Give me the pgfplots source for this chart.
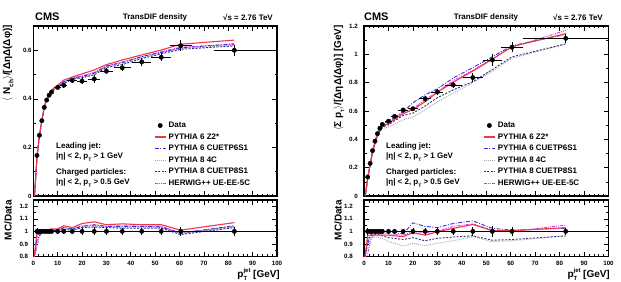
\documentclass[border=0pt]{standalone}
\usepackage{fontspec}
\setmainfont{Liberation Sans}
\usepackage{pgfplots}
\usepackage{pgfplotstable}
\pgfplotsset{compat=1.18}

\definecolor{cZtwo}{RGB}{235,60,70}
\definecolor{cSixS}{RGB}{50,50,230}
\definecolor{cFourC}{RGB}{170,170,170}
\definecolor{cEightS}{RGB}{45,45,120}
\definecolor{cHerwig}{RGB}{230,50,230}

\newcommand{\pT}{p\raisebox{-0.6ex}{\fontsize{5}{5}\selectfont T}}
\newcommand{\ptjet}{p\rlap{\raisebox{0.95ex}{\fontsize{6}{6}\selectfont jet}}\raisebox{-0.7ex}{\fontsize{6}{6}\selectfont T}\hspace{6bp}}

% Data: <N_ch> density, transverse-difference region
\pgfplotstableread{
x     y      exl   exh   ey
1.5   0.167  0.5   0.5   0.004
2.5   0.250  0.5   0.5   0.005
3.5   0.310  0.5   0.5   0.006
4.5   0.365  0.5   0.5   0.006
5.5   0.395  0.5   0.5   0.007
6.5   0.415  0.5   0.5   0.007
7.5   0.428  0.5   0.5   0.008
10    0.447  1.5   1.5   0.008
12.5  0.456  1.5   1.5   0.010
16    0.476  2     2     0.010
20    0.473  2     2     0.012
25    0.482  2.5   2.5   0.015
30    0.514  2.5   2.5   0.013
36.5  0.528  3.5   3.5   0.014
44.5  0.552  4     4     0.015
52.5  0.571  4     4     0.016
60.5  0.619  4.5   4.5   0.022
82.5  0.600  8.5   17.5  0.022
}\dataNch

\pgfplotstableread{
x     r  exl   exh   er
1.5   1  0.5   0.5   0.024
2.5   1  0.5   0.5   0.020
3.5   1  0.5   0.5   0.019
4.5   1  0.5   0.5   0.016
5.5   1  0.5   0.5   0.018
6.5   1  0.5   0.5   0.017
7.5   1  0.5   0.5   0.019
10    1  1.5   1.5   0.018
12.5  1  1.5   1.5   0.022
16    1  2     2     0.021
20    1  2     2     0.025
25    1  2.5   2.5   0.031
30    1  2.5   2.5   0.025
36.5  1  3.5   3.5   0.027
44.5  1  4     4     0.027
52.5  1  4     4     0.028
60.5  1  4.5   4.5   0.036
82.5  1  8.5   17.5  0.037
}\ratDataNch

\pgfplotstableread{
x     z2     p6     fc     p8     hw
0.5   0.000  0.000  0.000  0.000  0.000
1.5   0.165  0.155  0.162  0.160  0.147
2.5   0.250  0.243  0.248  0.248  0.240
3.5   0.313  0.307  0.310  0.310  0.307
4.5   0.369  0.365  0.365  0.365  0.365
5.5   0.399  0.399  0.395  0.395  0.399
6.5   0.421  0.419  0.417  0.417  0.419
7.5   0.437  0.432  0.430  0.430  0.432
10    0.456  0.451  0.451  0.449  0.454
12.5  0.477  0.470  0.465  0.463  0.470
16    0.490  0.486  0.481  0.481  0.486
20    0.503  0.492  0.487  0.487  0.494
25    0.519  0.506  0.501  0.499  0.509
30    0.541  0.535  0.532  0.529  0.535
36.5  0.560  0.549  0.544  0.541  0.552
44.5  0.581  0.574  0.569  0.566  0.574
52.5  0.601  0.591  0.588  0.585  0.594
60.5  0.625  0.610  0.607  0.604  0.613
82.5  0.642  0.627  0.621  0.618  0.624
}\mcNch

\pgfplotstableread{
x     z2     p6     fc     p8     hw
0.3   0.78   0.78   0.78   0.78   0.78
1.5   0.99   0.93   0.97   0.96   0.88
2.5   1.00   0.97   0.99   0.99   0.96
3.5   1.01   0.99   1.00   1.00   0.99
4.5   1.01   1.00   1.00   1.00   1.00
5.5   1.01   1.01   1.00   1.00   1.01
6.5   1.015  1.01   1.005  1.005  1.01
7.5   1.02   1.01   1.005  1.005  1.01
10    1.02   1.01   1.01   1.005  1.015
12.5  1.045  1.03   1.02   1.015  1.03
16    1.03   1.02   1.01   1.01   1.02
20    1.063  1.04   1.03   1.03   1.045
25    1.076  1.05   1.04   1.035  1.055
30    1.053  1.04   1.035  1.03   1.04
36.5  1.06   1.04   1.03   1.025  1.045
44.5  1.053  1.04   1.03   1.025  1.04
52.5  1.053  1.035  1.03   1.025  1.04
60.5  1.01   0.985  0.98   0.975  0.99
82.5  1.07   1.045  1.035  1.03   1.04
}\ratMcNch

% Data: sum pT density, transverse-difference region
\pgfplotstableread{
x     y      exl   exh   ey
1.5   0.134  0.5   0.5   0.004
2.5   0.230  0.5   0.5   0.005
3.5   0.320  0.5   0.5   0.006
4.5   0.387  0.5   0.5   0.007
5.5   0.440  0.5   0.5   0.008
6.5   0.478  0.5   0.5   0.008
7.5   0.505  0.5   0.5   0.009
10    0.528  1.5   1.5   0.010
12.5  0.562  1.5   1.5   0.012
16    0.607  2     2     0.012
20    0.616  2     2     0.015
25    0.687  2.5   2.5   0.020
30    0.734  2.5   2.5   0.020
36.5  0.784  3.5   3.5   0.022
44.5  0.836  4     4     0.030
52.5  0.960  4     4     0.040
60.5  1.050  4.5   4.5   0.035
82.5  1.113  17.5  17.5  0.030
}\dataPt

\pgfplotstableread{
x     r  exl   exh   er
1.5   1  0.5   0.5   0.030
2.5   1  0.5   0.5   0.022
3.5   1  0.5   0.5   0.019
4.5   1  0.5   0.5   0.018
5.5   1  0.5   0.5   0.018
6.5   1  0.5   0.5   0.017
7.5   1  0.5   0.5   0.018
10    1  1.5   1.5   0.019
12.5  1  1.5   1.5   0.021
16    1  2     2     0.020
20    1  2     2     0.024
25    1  2.5   2.5   0.029
30    1  2.5   2.5   0.027
36.5  1  3.5   3.5   0.028
44.5  1  4     4     0.036
52.5  1  4     4     0.042
60.5  1  4.5   4.5   0.033
82.5  1  17.5  17.5  0.027
}\ratDataPt

\pgfplotstableread{
x     z2     p6     fc     p8     hw
0.5   0.000  0.000  0.000  0.000  0.000
1.5   0.130  0.121  0.127  0.125  0.110
2.5   0.223  0.221  0.219  0.221  0.212
3.5   0.310  0.317  0.304  0.310  0.307
4.5   0.375  0.387  0.370  0.377  0.379
5.5   0.427  0.440  0.420  0.429  0.431
6.5   0.464  0.478  0.454  0.464  0.468
7.5   0.490  0.505  0.477  0.487  0.495
10    0.512  0.528  0.486  0.502  0.517
12.5  0.542  0.556  0.509  0.531  0.548
16    0.581  0.595  0.537  0.568  0.589
20    0.610  0.658  0.557  0.585  0.616
25    0.666  0.714  0.609  0.635  0.680
30    0.732  0.756  0.664  0.694  0.734
36.5  0.803  0.833  0.726  0.749  0.815
44.5  0.882  0.906  0.801  0.807  0.886
52.5  0.965  0.983  0.881  0.893  0.970
60.5  1.055  1.061  0.972  0.982  1.050
82.5  1.146  1.140  1.072  1.074  1.169
}\mcPt

\pgfplotstableread{
x     z2     p6     fc     p8     hw
0.3   0.78   0.78   0.78   0.78   0.78
1.5   0.97   0.90   0.95   0.93   0.82
2.5   0.97   0.96   0.95   0.96   0.92
3.5   0.97   0.99   0.95   0.97   0.96
4.5   0.97   1.00   0.955  0.975  0.98
5.5   0.97   1.00   0.955  0.975  0.98
6.5   0.97   1.00   0.95   0.97   0.98
7.5   0.97   1.00   0.945  0.965  0.98
10    0.97   1.00   0.92   0.95   0.98
12.5  0.965  0.99   0.905  0.945  0.975
16    0.958  0.98   0.884  0.935  0.97
20    0.99   1.068  0.905  0.95   1.00
25    0.97   1.04   0.887  0.925  0.99
30    0.997  1.03   0.905  0.945  1.00
36.5  1.024  1.063  0.926  0.955  1.04
44.5  1.055  1.084  0.958  0.965  1.06
52.5  1.005  1.024  0.918  0.93   1.01
60.5  1.005  1.01   0.926  0.935  1.00
82.5  1.03   1.024  0.963  0.965  1.05
}\ratMcPt

% line styles of the generator predictions
\tikzset{
  z2/.style={draw=cZtwo, line width=1.1bp, solid},
  p6/.style={draw=cSixS, line width=0.9bp, dash pattern=on 4bp off 1.5bp on 1bp off 1.5bp},
  fc/.style={draw=cFourC, line width=0.9bp, dash pattern=on 1bp off 1bp},
  p8/.style={draw=cEightS, line width=0.9bp, dash pattern=on 2bp off 1.5bp},
  hw/.style={draw=cHerwig, line width=0.9bp, dash pattern=on 3bp off 1bp on 1bp off 1bp on 1bp off 1bp},
}

\pgfplotsset{
  datapts/.style={black, only marks, mark=*, mark size=2.2bp,
    error bars/x dir=both, error bars/x explicit,
    error bars/y dir=both, error bars/y explicit,
    error bars/error mark=none,
    error bars/error bar style={black, line width=0.7bp}},
  cmsframe/.style={
    scale only axis, anchor=south west,
    xmin=0, xmax=100,
    axis line style={line width=1.1bp},
    every tick/.style={black, line width=0.6bp},
    major tick length=5bp, minor tick length=2.5bp,
    xtick={0,10,...,100}, minor x tick num=4,
    tick label style={font=\fontsize{6.2}{7}\selectfont\bfseries},
    /pgf/number format/assume math mode=true,
    xticklabel style={inner sep=0pt, yshift=-4.5bp},
  },
  mainleg/.style={
    legend cell align=left,
    legend style={draw=none, fill=none, anchor=north west, inner sep=0pt,
      font=\fontsize{8}{8}\selectfont\bfseries, row sep=4bp, column sep=2.5bp,
      nodes={inner sep=0pt, text height=6bp, text depth=1.5bp}},
  },
  % legend samples: a dot for the data, short line segments for the predictions
  dataimg/.style={legend image code/.code={\fill[black] (5.5bp,0bp) circle (2.2bp);}},
  z2img/.style={legend image code/.code={\draw[z2] (0bp,0bp) -- (11bp,0bp);}},
  p6img/.style={legend image code/.code={\draw[p6] (0bp,0bp) -- (11bp,0bp);}},
  fcimg/.style={legend image code/.code={\draw[fc] (0bp,0bp) -- (11bp,0bp);}},
  p8img/.style={legend image code/.code={\draw[p8] (0bp,0bp) -- (11bp,0bp);}},
  hwimg/.style={legend image code/.code={\draw[hw] (0bp,0bp) -- (11bp,0bp);}},
}

\begin{document}
\begin{tikzpicture}[x=1bp, y=1bp, font=\bfseries]

% ---------------- left: charged-particle density ----------------
\begin{axis}[cmsframe, mainleg, at={(33.3bp,85bp)}, width=243.7bp, height=170bp,
  ymin=0, ymax=0.7, ytick={0,0.2,0.4,0.6}, minor ytick={0.1,0.3,0.5},
  xticklabels={}, yticklabel style={inner sep=0pt, xshift=-1.5bp},
  legend style={at={(0.495,0.438)}}]
\addlegendimage{dataimg}\addlegendentry{Data}
\addlegendimage{z2img}\addlegendentry{PYTHIA 6 Z2*}
\addlegendimage{p6img}\addlegendentry{PYTHIA 6 CUETP6S1}
\addlegendimage{fcimg}\addlegendentry{PYTHIA 8 4C}
\addlegendimage{p8img}\addlegendentry{PYTHIA 8 CUETP8S1}
\addlegendimage{hwimg}\addlegendentry{HERWIG++ UE-EE-5C}
\addplot[fc, forget plot] table[x=x, y=fc]{\mcNch};
\addplot[p8, forget plot] table[x=x, y=p8]{\mcNch};
\addplot[hw, forget plot] table[x=x, y=hw]{\mcNch};
\addplot[p6, forget plot] table[x=x, y=p6]{\mcNch};
\addplot[z2, forget plot] table[x=x, y=z2]{\mcNch};
\addplot[forget plot, datapts] table[x=x, y=y, x error minus=exl, x error plus=exh, y error=ey]{\dataNch};
\end{axis}

\begin{axis}[cmsframe, at={(33.3bp,24.5bp)}, width=243.7bp, height=56.5bp,
  ymin=0.8, ymax=1.25, ytick={0.8,0.9,1,1.1,1.2}, minor y tick num=1,
  yticklabel style={inner sep=0pt, xshift=-5bp}]
\addplot[fc] table[x=x, y=fc]{\ratMcNch};
\addplot[p8] table[x=x, y=p8]{\ratMcNch};
\addplot[hw] table[x=x, y=hw]{\ratMcNch};
\addplot[p6] table[x=x, y=p6]{\ratMcNch};
\addplot[z2] table[x=x, y=z2]{\ratMcNch};
\addplot[black, line width=0.7bp] coordinates {(0,1) (100,1)};
\addplot[datapts] table[x=x, y=r, x error minus=exl, x error plus=exh, y error=er]{\ratDataNch};
\end{axis}

% ---------------- right: scalar pT-sum density ----------------
\begin{axis}[cmsframe, mainleg, at={(364bp,85bp)}, width=244.5bp, height=170bp,
  ymin=0, ymax=1.2, ytick={0,0.2,...,1.2}, minor ytick={0.1,0.3,...,1.1},
  xticklabels={}, yticklabel style={inner sep=0pt, xshift=-6bp},
  legend style={at={(0.487,0.438)}}]
\addlegendimage{dataimg}\addlegendentry{Data}
\addlegendimage{z2img}\addlegendentry{PYTHIA 6 Z2*}
\addlegendimage{p6img}\addlegendentry{PYTHIA 6 CUETP6S1}
\addlegendimage{fcimg}\addlegendentry{PYTHIA 8 4C}
\addlegendimage{p8img}\addlegendentry{PYTHIA 8 CUETP8S1}
\addlegendimage{hwimg}\addlegendentry{HERWIG++ UE-EE-5C}
\addplot[fc, forget plot] table[x=x, y=fc]{\mcPt};
\addplot[p8, forget plot] table[x=x, y=p8]{\mcPt};
\addplot[hw, forget plot] table[x=x, y=hw]{\mcPt};
\addplot[p6, forget plot] table[x=x, y=p6]{\mcPt};
\addplot[z2, forget plot] table[x=x, y=z2]{\mcPt};
\addplot[forget plot, datapts] table[x=x, y=y, x error minus=exl, x error plus=exh, y error=ey]{\dataPt};
\end{axis}

\begin{axis}[cmsframe, at={(364bp,24.5bp)}, width=244.5bp, height=56.5bp,
  ymin=0.8, ymax=1.25, ytick={0.8,0.9,1,1.1,1.2}, minor y tick num=1,
  yticklabel style={inner sep=0pt, xshift=-11bp}]
\addplot[fc] table[x=x, y=fc]{\ratMcPt};
\addplot[p8] table[x=x, y=p8]{\ratMcPt};
\addplot[hw] table[x=x, y=hw]{\ratMcPt};
\addplot[p6] table[x=x, y=p6]{\ratMcPt};
\addplot[z2] table[x=x, y=z2]{\ratMcPt};
\addplot[black, line width=0.7bp] coordinates {(0,1) (100,1)};
\addplot[datapts] table[x=x, y=r, x error minus=exl, x error plus=exh, y error=er]{\ratDataPt};
\end{axis}

% ---------------- titles and labels ----------------
\begin{scope}[every node/.style={inner sep=0pt}]
\node[anchor=west, font=\fontsize{11}{11}\selectfont\bfseries] at (35,264) {CMS};
\node[font=\fontsize{8}{8}\selectfont\bfseries] at (155,264) {TransDIF density};
\node[anchor=east, font=\fontsize{8}{8}\selectfont\bfseries] at (273,264) {√s = 2.76 TeV};
\node[anchor=west, font=\fontsize{11}{11}\selectfont\bfseries] at (364,264) {CMS};
\node[font=\fontsize{8}{8}\selectfont\bfseries] at (486,264) {TransDIF density};
\node[anchor=east, font=\fontsize{8}{8}\selectfont\bfseries] at (603,264) {√s = 2.76 TeV};

\node[rotate=90, anchor=east, font=\fontsize{10}{10}\selectfont\bfseries] at (8,256)
  {$\langle$ N\raisebox{-0.6ex}{\fontsize{6.5}{6.5}\selectfont ch}$\rangle$/[ΔηΔ(Δφ)]};
\node[rotate=90, anchor=east, font=\fontsize{10}{10}\selectfont\bfseries] at (339,256)
  {$\langle$Σ \pT$\rangle$/[ΔηΔ(Δφ)] [GeV]};
\node[rotate=90, anchor=east, font=\fontsize{10}{10}\selectfont\bfseries] at (8,81) {MC/Data};
\node[rotate=90, anchor=east, font=\fontsize{10}{10}\selectfont\bfseries] at (338,81) {MC/Data};

\node[anchor=base east, font=\fontsize{10}{10}\selectfont\bfseries] at (280,3.8) {\ptjet[GeV]};
\node[anchor=base east, font=\fontsize{10}{10}\selectfont\bfseries] at (610,3.8) {\ptjet[GeV]};

\begin{scope}[every node/.style={anchor=west, inner sep=0pt, font=\fontsize{8}{8}\selectfont\bfseries}]
\node at (56,135) {Leading jet:};
\node at (56,124) {|η| < 2, \pT{} > 1 GeV};
\node at (56,109) {Charged particles:};
\node at (56,98) {|η| < 2, \pT{} > 0.5 GeV};
\node at (386,135) {Leading jet:};
\node at (386,124) {|η| < 2, \pT{} > 1 GeV};
\node at (386,109) {Charged particles:};
\node at (386,98) {|η| < 2, \pT{} > 0.5 GeV};
\end{scope}
\end{scope}

\pgfresetboundingbox
\path[use as bounding box] (0,0) rectangle (621,281);
\end{tikzpicture}
\end{document}
